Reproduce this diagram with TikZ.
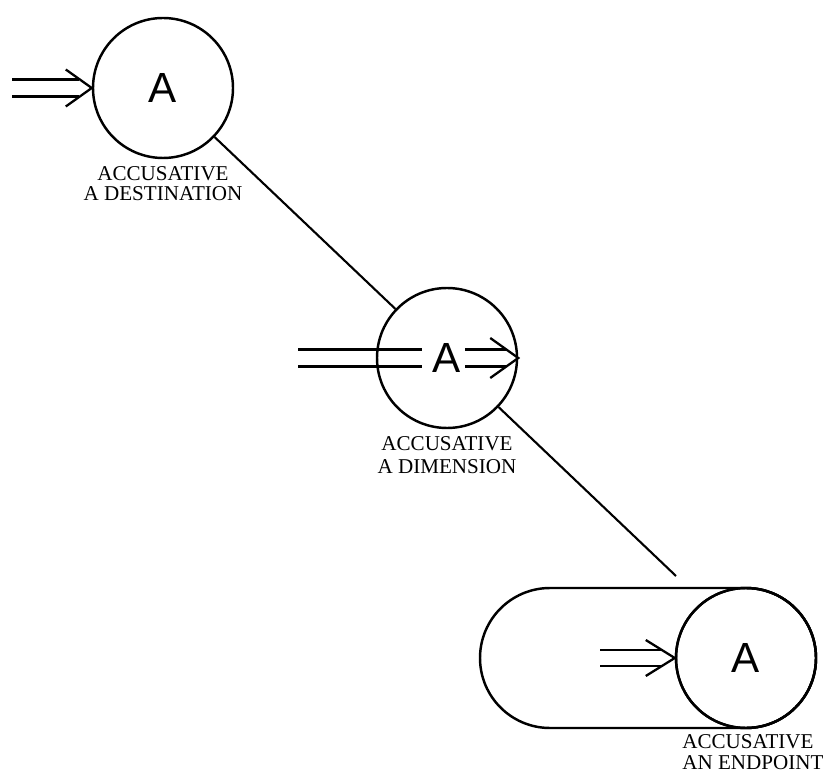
\documentclass[tikz,border=0pt]{standalone}
\usepackage{fontspec}
\setmainfont{Liberation Serif}
\newfontfamily\letterfont{Liberation Sans}
\usetikzlibrary{positioning,shapes.misc}

\begin{document}
\begin{tikzpicture}[
    % Circles and the track behind the last one
    station/.style={circle, draw=black, line width=1.4pt, minimum size=2.8cm, inner sep=0pt, font=\letterfont\fontsize{24}{24}\selectfont},
    track/.style={rounded rectangle, draw=black, line width=1.4pt, minimum width=6.72cm, minimum height=2.8cm, inner sep=0pt},
    % Double arrows and plain links
    shaft/.style={line width=1.3pt},
    chevron/.style={line width=1.3pt, line join=miter},
    link/.style={line width=1.2pt},
    % Case labels
    caselabel/.style={font=\fontsize{12}{13}\selectfont, align=center, inner sep=0pt}
]
\useasboundingbox (0,0) rectangle (16.46,15.44);

% Track first, circle on top of it
\node[station] (c1) at (3.26, 13.68) {A};
\node[station] (c2) at (8.94, 8.28) {A};
\node[station] (c3) at (14.92, 2.28) {A};
\node[track, anchor=east] (pill) at (c3.east) {};
\node[station] at (c3) {};

% Labels under the circles
\node[caselabel, below=0.14cm of c1] (l1) {ACCUSATIVE\\[-1.5pt]A DESTINATION};
\node[caselabel, below=0.14cm of c2] (l2) {ACCUSATIVE\\A DIMENSION};
\node[caselabel, align=left, anchor=north west] (l3) at (13.64, 0.76) {ACCUSATIVE\\[-1pt]AN ENDPOINT};

% Free ends of the arrows and the last link
\coordinate (in1) at (0.24, 13.68);
\coordinate (in2) at (5.96, 8.28);
\coordinate (in3) at (12.00, 2.28);
\coordinate (e3) at (13.52, 3.92);

% Links between the circles
\draw[link] (c1) -- (c2);
\draw[link] (c2) -- (e3);

% Arrow into the first circle
\draw[shaft] ([yshift=0.17cm]in1) -- ([xshift=-0.25cm, yshift=0.17cm]c1.west);
\draw[shaft] ([yshift=-0.17cm]in1) -- ([xshift=-0.25cm, yshift=-0.17cm]c1.west);
\draw[chevron] ([xshift=-0.52cm, yshift=0.37cm]c1.west) -- (c1.west) -- ([xshift=-0.52cm, yshift=-0.37cm]c1.west);

% Arrow through the second circle, broken by the letter
\draw[shaft] ([yshift=0.17cm]in2) -- ([xshift=-0.5cm, yshift=0.17cm]c2.center);
\draw[shaft] ([yshift=-0.17cm]in2) -- ([xshift=-0.5cm, yshift=-0.17cm]c2.center);
\draw[shaft] ([xshift=0.36cm, yshift=0.17cm]c2.center) -- ([xshift=-0.25cm, yshift=0.17cm]c2.east);
\draw[shaft] ([xshift=0.36cm, yshift=-0.17cm]c2.center) -- ([xshift=-0.25cm, yshift=-0.17cm]c2.east);
\draw[chevron] ([xshift=-0.56cm, yshift=0.4cm]c2.east) -- (c2.east) -- ([xshift=-0.56cm, yshift=-0.4cm]c2.east);

% Arrow inside the track
\draw[shaft] ([yshift=0.16cm]in3) -- ([xshift=-0.25cm, yshift=0.16cm]c3.west);
\draw[shaft] ([yshift=-0.16cm]in3) -- ([xshift=-0.25cm, yshift=-0.16cm]c3.west);
\draw[chevron] ([xshift=-0.58cm, yshift=0.36cm]c3.west) -- (c3.west) -- ([xshift=-0.58cm, yshift=-0.36cm]c3.west);

\end{tikzpicture}
\end{document}
